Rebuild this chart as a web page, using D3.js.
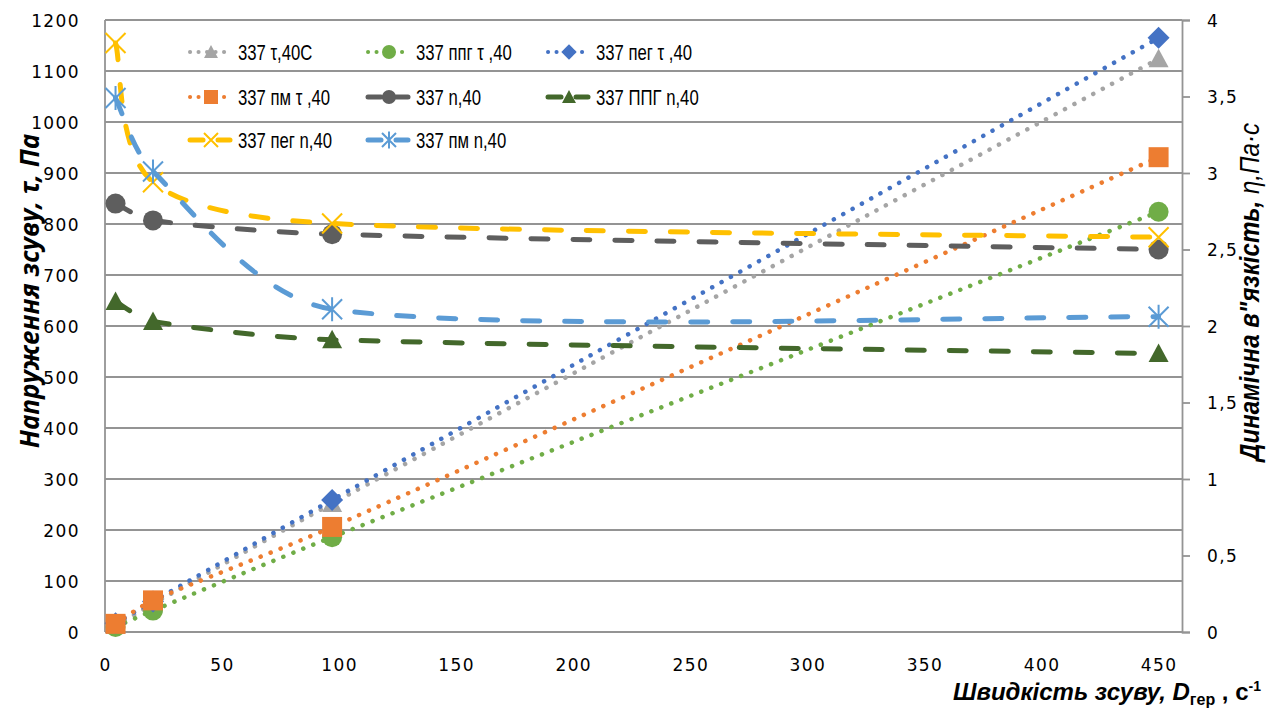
<!DOCTYPE html>
<html lang="uk">
<head>
<meta charset="UTF-8">
<title>Напруження зсуву та в'язкість</title>
<script src="https://cdn.jsdelivr.net/npm/d3@7"></script>
<style>
  body { margin: 0; background: #fff; }
  .tick-label { font-family: "DejaVu Sans", sans-serif; font-size: 17px; letter-spacing: 1.4px; fill: #000; }
  .legend-text { font-family: "Liberation Sans", sans-serif; font-size: 22px; fill: #000; }
  .grid { stroke: #949494; stroke-width: 1.8; }
</style>
</head>
<body>
<svg id="chart"></svg>
<script>
// shear rate, 1/s
var shearRate = [4.5, 20.5, 97, 450];

// shear stress, Pa (left axis)
var tau40C = [12.6, 55, 252, 1124];
var tauPPG = [9.7, 42, 186, 824];
var tauPEG = [17, 60, 259, 1165];
var tauPM = [16, 62, 206, 931];

// dynamic viscosity, Pa*s (right axis)
var eta40 = [2.80, 2.69, 2.60, 2.50];
var etaPPG = [2.16, 2.03, 1.91, 1.82];
var etaPEG = [3.85, 2.94, 2.67, 2.58];
var etaPM = [3.49, 3.01, 2.11, 2.06];

var xTicks = [0, 50, 100, 150, 200, 250, 300, 350, 400, 450];
var yLeftTicks = [0, 100, 200, 300, 400, 500, 600, 700, 800, 900, 1000, 1100, 1200];
var yRightTicks = [0, 0.5, 1, 1.5, 2, 2.5, 3, 3.5, 4];

var series = [
  {name: "337 τ,40C",    values: tau40C, axis: "left",  color: "#A5A5A5", style: "dot",  marker: "triangle"},
  {name: "337 ппг τ ,40", values: tauPPG, axis: "left",  color: "#70AD47", style: "dot",  marker: "circle"},
  {name: "337 пег τ ,40", values: tauPEG, axis: "left",  color: "#4472C4", style: "dot",  marker: "diamond"},
  {name: "337 пм τ ,40",  values: tauPM,  axis: "left",  color: "#ED7D31", style: "dot",  marker: "square"},
  {name: "337 n,40",      values: eta40,  axis: "right", color: "#5E5E5E", style: "dash", marker: "circle"},
  {name: "337 ППГ n,40",  values: etaPPG, axis: "right", color: "#43682B", style: "dash", marker: "triangle"},
  {name: "337 пег n,40",  values: etaPEG, axis: "right", color: "#FFC000", style: "dash", marker: "x"},
  {name: "337 пм n,40",   values: etaPM,  axis: "right", color: "#5B9BD5", style: "dash", marker: "star"}
];

var W = 1274, H = 713;
var plotL = 105, plotR = 1182, plotT = 20, plotB = 632;

var svg = d3.select("#chart").attr("width", W).attr("height", H);

var xs = d3.scaleLinear().domain([0, 460]).range([plotL, plotR]);
var yl = d3.scaleLinear().domain([0, 1200]).range([plotB, plotT]);
var yr = d3.scaleLinear().domain([0, 4]).range([plotB, plotT]);

// horizontal grid
svg.append("g").selectAll("line")
  .data(yLeftTicks)
  .enter().append("line")
    .attr("class", "grid")
    .attr("x1", plotL).attr("x2", plotR)
    .attr("y1", function(d) { return yl(d); })
    .attr("y2", function(d) { return yl(d); });

// left axis line
svg.append("line").attr("class", "grid")
  .attr("x1", plotL).attr("x2", plotL).attr("y1", plotT).attr("y2", plotB);

// right axis with outward ticks
var rAxis = svg.append("g")
  .attr("transform", "translate(" + plotR + ",0)")
  .call(d3.axisRight(yr).tickValues(yRightTicks).tickSize(8).tickPadding(17)
    .tickFormat(function(d) { return String(d).replace(".", ","); }));
rAxis.select(".domain").attr("stroke", "#949494").attr("stroke-width", 1.8);
rAxis.selectAll(".tick line").attr("stroke", "#949494").attr("stroke-width", 1.8);
rAxis.selectAll(".tick text").attr("class", "tick-label").attr("dy", "0.36em");

// left tick labels
var lAxis = svg.append("g")
  .attr("transform", "translate(" + plotL + ",0)")
  .call(d3.axisLeft(yl).tickValues(yLeftTicks).tickSize(0).tickPadding(25).tickFormat(d3.format("d")));
lAxis.select(".domain").remove();
lAxis.selectAll(".tick text").attr("class", "tick-label").attr("dy", "0.36em");

// x tick labels
var xAxis = svg.append("g")
  .attr("transform", "translate(0," + plotB + ")")
  .call(d3.axisBottom(xs).tickValues(xTicks).tickSize(0).tickPadding(27));
xAxis.select(".domain").remove();
xAxis.selectAll(".tick text").attr("class", "tick-label");

function markerPath(type, s) {
  var h = s / 2;
  if (type === "triangle") return "M0," + (-h) + "L" + h + "," + (h * 0.85) + "L" + (-h) + "," + (h * 0.85) + "Z";
  if (type === "diamond") return "M0," + (-h * 1.1) + "L" + (h * 1.1) + ",0L0," + (h * 1.1) + "L" + (-h * 1.1) + ",0Z";
  if (type === "square") return "M" + (-h) + "," + (-h) + "h" + s + "v" + s + "h" + (-s) + "Z";
  if (type === "x") return "M" + (-h) + "," + (-h) + "L" + h + "," + h + "M" + h + "," + (-h) + "L" + (-h) + "," + h;
  if (type === "star") return "M" + (-h) + "," + (-h) + "L" + h + "," + h + "M" + h + "," + (-h) + "L" + (-h) + "," + h +
    "M0," + (-h * 1.2) + "L0," + (h * 1.2);
  return null;
}

function drawMarker(g, type, color, x, y, s) {
  if (type === "circle") {
    g.append("circle").attr("cx", x).attr("cy", y).attr("r", s / 2).attr("fill", color);
  } else if (type === "x" || type === "star") {
    g.append("path").attr("d", markerPath(type, s)).attr("transform", "translate(" + x + "," + y + ")")
      .attr("fill", "none").attr("stroke", color).attr("stroke-width", 2);
  } else {
    g.append("path").attr("d", markerPath(type, s)).attr("transform", "translate(" + x + "," + y + ")")
      .attr("fill", color);
  }
}

// smoothed line like the spreadsheet's: catmull-rom arms (1/6 of the neighbour span),
// each arm clamped to a third of its own segment
function smoothPath(pts) {
  var n = pts.length, p = d3.path();
  function seglen(a, b) { return Math.hypot(b[0] - a[0], b[1] - a[1]); }
  function arm(i, dir) {
    var a = pts[Math.max(i - 1, 0)], b = pts[Math.min(i + 1, n - 1)];
    var v = [(b[0] - a[0]) / 6, (b[1] - a[1]) / 6];
    var j = dir > 0 ? i + 1 : i - 1;
    var lim = seglen(pts[i], pts[j]) / 3, len = Math.hypot(v[0], v[1]);
    if (len > lim) { v = [v[0] * lim / len, v[1] * lim / len]; }
    return v;
  }
  p.moveTo(pts[0][0], pts[0][1]);
  for (var i = 0; i < n - 1; i++) {
    var a1 = arm(i, 1), a2 = arm(i + 1, -1);
    p.bezierCurveTo(pts[i][0] + a1[0], pts[i][1] + a1[1],
                    pts[i + 1][0] - a2[0], pts[i + 1][1] - a2[1],
                    pts[i + 1][0], pts[i + 1][1]);
  }
  return p.toString();
}

series.forEach(function(s) {
  var ys = s.axis === "left" ? yl : yr;
  var pts = shearRate.map(function(x, i) { return [xs(x), ys(s.values[i])]; });
  var g = svg.append("g");
  g.append("path")
    .attr("d", smoothPath(pts))
    .attr("fill", "none")
    .attr("stroke", s.color)
    .attr("stroke-width", s.style === "dot" ? 4.5 : 5)
    .attr("stroke-linecap", "round")
    .attr("stroke-dasharray", s.style === "dot" ? "0.1 10.6" : "17 25");
  pts.forEach(function(p) { drawMarker(g, s.marker, s.color, p[0], p[1], 20); });
});

// legend
var colX = [188, 366, 546];
var rowY = [52, 97, 140];
var legend = svg.append("g");
series.forEach(function(s, i) {
  var x0 = colX[i % 3], y0 = rowY[Math.floor(i / 3)];
  if (s.style === "dot") {
    legend.append("line").attr("x1", x0 + 2).attr("x2", x0 + 44).attr("y1", y0).attr("y2", y0)
      .attr("stroke", s.color).attr("stroke-width", 4).attr("stroke-linecap", "round")
      .attr("stroke-dasharray", "0.1 8.4");
  } else {
    legend.append("line").attr("x1", x0 + 2).attr("x2", x0 + 15).attr("y1", y0).attr("y2", y0)
      .attr("stroke", s.color).attr("stroke-width", 5).attr("stroke-linecap", "round");
    legend.append("line").attr("x1", x0 + 30).attr("x2", x0 + 42).attr("y1", y0).attr("y2", y0)
      .attr("stroke", s.color).attr("stroke-width", 5).attr("stroke-linecap", "round");
  }
  drawMarker(legend, s.marker, s.color, x0 + 23, y0, 14);
  legend.append("text").attr("class", "legend-text")
    .attr("transform", "translate(" + (x0 + 50) + "," + y0 + ") scale(0.76,1)")
    .attr("dy", "0.36em")
    .text(s.name);
});

// left title
svg.append("text")
  .attr("transform", "translate(39,291) rotate(-90)")
  .attr("text-anchor", "middle")
  .style("font-family", "'Open Sans', sans-serif")
  .style("font-size", "26px").style("font-weight", "bold").style("font-style", "italic")
  .text("Напруження зсуву,  τ, Па");

// right title (narrow face imitated with a horizontal squeeze)
var rt = svg.append("text")
  .attr("transform", "translate(1259,292) rotate(-90) scale(0.86,1)")
  .attr("text-anchor", "middle")
  .style("font-family", "'Liberation Sans', sans-serif")
  .style("font-size", "28px").style("font-style", "italic");
rt.append("tspan").style("font-weight", "bold").text("Динамічна в\"язкість, ");
rt.append("tspan").text("η,Па·с");

// x title
var xt = svg.append("text")
  .attr("x", 1261).attr("y", 700)
  .attr("text-anchor", "end")
  .style("font-family", "'Liberation Sans', Arial, sans-serif")
  .style("font-size", "24px").style("font-weight", "bold");
xt.append("tspan").style("font-style", "italic").text("Швидкість  зсуву, D");
xt.append("tspan").attr("dy", 5).style("font-size", "16px").text("гер");
xt.append("tspan").attr("dy", -5).text(" , с");
xt.append("tspan").attr("dy", -9).style("font-size", "14px").text("-1");
</script>
</body>
</html>
